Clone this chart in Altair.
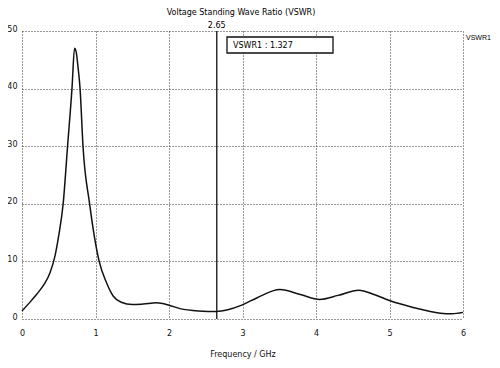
import altair as alt
import pandas as pd

# Curve
freq = [0.0, 0.1, 0.2, 0.3, 0.38, 0.45, 0.5, 0.56, 0.62, 0.68, 0.715, 0.735, 0.76,
        0.79, 0.83, 0.92, 1.05, 1.15, 1.24, 1.35, 1.5, 1.65, 1.83, 2.0, 2.15,
        2.4, 2.65, 2.8, 2.99, 3.2, 3.51, 3.8, 4.05, 4.3, 4.58, 4.8, 5.0, 5.32,
        5.69, 5.85, 6.0]
vswr = [1.4, 2.8, 4.3, 6.0, 8.0, 11.0, 14.5, 20.0, 30.0, 40.0, 47.0, 46.5, 44.0,
        40.0, 30.0, 20.0, 10.0, 6.3, 4.0, 2.9, 2.5, 2.6, 2.8, 2.4, 1.8,
        1.4, 1.3, 1.6, 2.4, 3.7, 5.1, 4.2, 3.4, 4.1, 5.0, 4.2, 3.2, 2.0,
        1.0, 0.9, 1.15]

x_ticks = [0, 1, 2, 3, 4, 5, 6]
y_ticks = [0, 10, 20, 30, 40, 50]

marker_freq = [2.65]
marker_label = ["2.65"]
marker_readout = ["VSWR1 : 1.327"]
chart_title = ["Voltage Standing Wave Ratio (VSWR)"]
series_name = ["VSWR1"]

FONT = "DejaVu Sans"

df = pd.DataFrame({"f": freq, "v": vswr})

xscale = alt.Scale(domain=[0, 6], nice=False, zero=False)
yscale = alt.Scale(domain=[0, 50], nice=False)

line = alt.Chart(df).mark_line(color="#111111", strokeWidth=1.5, interpolate="monotone").encode(
    x=alt.X("f:Q", scale=xscale,
            axis=alt.Axis(values=x_ticks, title="Frequency / GHz", format="d",
                          labelFlush=False, labelOverlap=False)),
    y=alt.Y("v:Q", scale=yscale,
            axis=alt.Axis(values=y_ticks, title=None, format="d",
                          labelBaseline="alphabetic", labelFlush=False)),
)

mdf = pd.DataFrame({"f": marker_freq, "lab": marker_label})
rule = alt.Chart(mdf).mark_rule(color="#111111", strokeWidth=1.3).encode(x=alt.X("f:Q", scale=xscale))
mtext = alt.Chart(mdf).mark_text(font=FONT, fontSize=8, baseline="bottom", align="center", dy=-1).encode(
    x=alt.X("f:Q", scale=xscale), y=alt.value(0), text="lab:N")

box = alt.Chart(pd.DataFrame({"t": marker_readout})).mark_rect(
    fill="white", stroke="#111111", strokeWidth=1.3).encode(
    x=alt.value(205), x2=alt.value(311), y=alt.value(6), y2=alt.value(22))
boxtext = alt.Chart(pd.DataFrame({"t": marker_readout})).mark_text(
    font=FONT, fontSize=8, align="left", baseline="middle").encode(
    x=alt.value(211), y=alt.value(14.5), text="t:N")

title = alt.Chart(pd.DataFrame({"t": chart_title})).mark_text(
    font=FONT, fontSize=8, align="center", baseline="middle").encode(
    x=alt.value(219), y=alt.value(-18), text="t:N")

sname = alt.Chart(pd.DataFrame({"t": series_name})).mark_text(
    font="Liberation Sans", fontSize=7, align="left", baseline="middle").encode(
    x=alt.value(444), y=alt.value(7), text="t:N")

chart = alt.layer(line, rule, mtext, box, boxtext, title, sname).properties(
    width=441, height=288,
    autosize=alt.AutoSizeParams(type="none"),
    padding={"left": 14, "top": 23, "right": 29, "bottom": 41},
    background="white",
).configure_axis(
    domain=False, ticks=False,
    grid=True, gridColor="#333333", gridDash=[1, 2], gridWidth=1, gridOpacity=1,
    labelFont=FONT, labelFontSize=8, labelColor="#111111",
    titleFont=FONT, titleFontSize=8, titleFontWeight="normal", titleColor="#111111",
).configure_axisX(labelPadding=10, titlePadding=13).configure_axisY(labelPadding=5).configure_view(stroke=None)

chart.save("out.html", embed_options={"renderer": "svg", "actions": False})
